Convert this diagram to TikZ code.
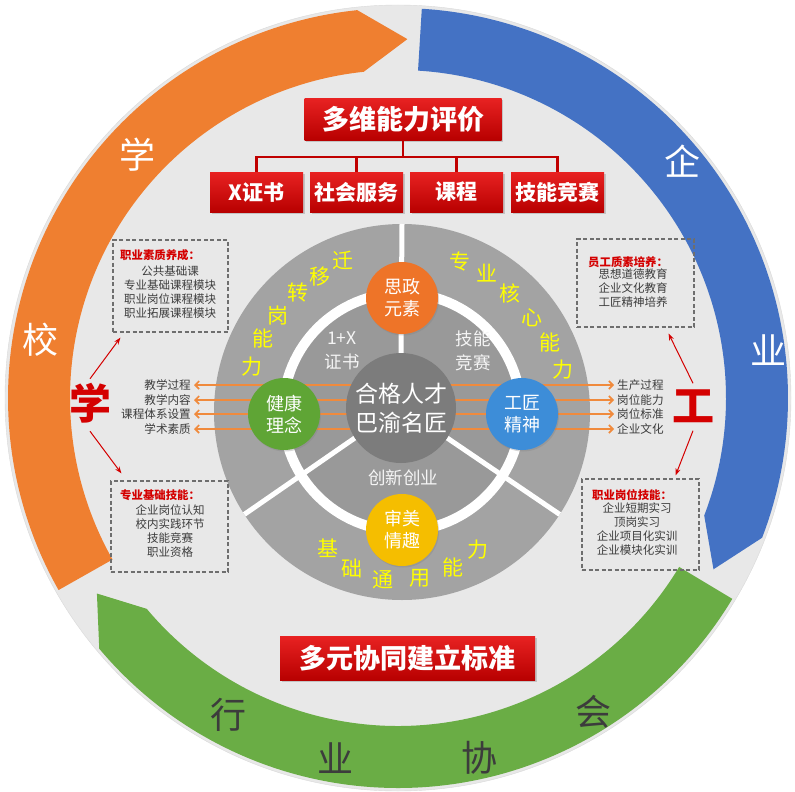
\documentclass[tikz,border=0pt]{standalone}
\usepackage{fontspec}
\setmainfont{Noto Sans CJK SC}
\usetikzlibrary{arrows.meta,shadows}

\newcommand{\fsz}[2]{\fontsize{#1pt}{#2pt}\selectfont}

\definecolor{bglight}{HTML}{E8E8E8}
\definecolor{ringorange}{HTML}{EF7F30}
\definecolor{ringblue}{HTML}{4472C4}
\definecolor{ringgreen}{HTML}{6AAD45}
\definecolor{boxtop}{HTML}{E82222}
\definecolor{boxbot}{HTML}{B80000}
\definecolor{treered}{HTML}{C00000}
\definecolor{titlered}{HTML}{D40000}
\definecolor{txtgray}{HTML}{3C3C3C}
\definecolor{dashgray}{HTML}{6E6E6E}
\definecolor{lineorange}{HTML}{F08A3C}
\definecolor{diskout}{HTML}{A3A3A3}
\definecolor{diskin}{HTML}{999999}
\definecolor{ccgray}{HTML}{7C7C7C}
\definecolor{ballorange}{HTML}{EE7428}
\definecolor{ballgreen}{HTML}{5FA535}
\definecolor{ballblue}{HTML}{3D8DD8}
\definecolor{ballyellow}{HTML}{F5BE00}
\definecolor{yeltext}{HTML}{FFFF00}

\begin{document}
\begin{tikzpicture}[x=1pt,y=-1pt]
    \tikzstyle{ringtext}=[text=white, font=\fsz{36}{36}, inner sep=0pt]
    \tikzstyle{redbox}=[rectangle, top color=boxtop, bottom color=boxbot, text=white, inner sep=0pt,
      drop shadow={opacity=0.35, shadow xshift=1.5pt, shadow yshift=-1.5pt}]
    \tikzstyle{tree}=[draw=treered, line width=2.2pt]
    \tikzstyle{dashbox}=[draw=dashgray, dashed, line width=1.1pt, dash pattern=on 4pt off 2.5pt, inner sep=0pt]
    \tikzstyle{boxtitle}=[text=titlered, font=\fsz{11.4}{13}\bfseries, anchor=west, inner sep=0pt]
    \tikzstyle{boxtext}=[text=txtgray, font=\fsz{11.5}{13.8}, align=center, inner sep=0pt]
    \tikzstyle{sidetext}=[text=txtgray, font=\fsz{11.6}{12}, inner sep=1pt]
    \tikzstyle{orline}=[draw=lineorange, line width=1.6pt, -{Straight Barb[length=4pt,width=8pt]}]
    \tikzstyle{redarr}=[draw=titlered, line width=1pt, -{Stealth[length=7pt,width=5pt]}]
    \tikzstyle{ball}=[circle, minimum size=72pt, inner sep=0pt, text=white, font=\fsz{18}{22}, align=center,
      drop shadow={opacity=0.3, shadow xshift=1pt, shadow yshift=-1.5pt}]
    \tikzstyle{yel}=[text=yeltext, font=\fsz{21}{21}, inner sep=0pt]
    \tikzstyle{graytext}=[text=white!92!gray, font=\fsz{17.5}{24}, align=center, inner sep=0pt]

    \useasboundingbox (0,0) rectangle (795,792);
    \fill[white] (0,0) rectangle (795,792);

    % background disc and the three ring arrows
    \filldraw[fill=bglight, draw=black!15] (398,398) circle[radius=393pt];
    \begin{scope}[shift={(398,398)}]
      \fill[ringorange] (209.5:390pt) arc[start angle=209.5, end angle=96, radius=390pt]
        -- (88.5:359pt) -- (96:328pt) arc[start angle=96, end angle=209.5, radius=328pt] -- cycle;
      \fill[ringblue] (86.5:390pt) arc[start angle=86.5, end angle=-21, radius=390pt]
        -- (-28.5:359pt) -- (-21:328pt) arc[start angle=-21, end angle=86.5, radius=328pt] -- cycle;
      \fill[ringgreen] (-31:390pt) arc[start angle=-31, end angle=-140, radius=390pt]
        -- (-147:359pt) -- (-140:328pt) arc[start angle=-140, end angle=-31, radius=328pt] -- cycle;
    \end{scope}
    \node[ringtext] (r1) at (137,155) {学};
    \node[ringtext] (r2) at (41,340) {校};
    \node[ringtext] (r3) at (682,161) {企};
    \node[ringtext] (r4) at (768,350) {业};
    \node[ringtext, text=txtgray] (r5) at (228,715) {行};
    \node[ringtext, text=txtgray] (r6) at (335,758) {业};
    \node[ringtext, text=txtgray] (r7) at (479,758) {协};
    \node[ringtext, text=txtgray] (r8) at (593,712) {会};

    % evaluation tree
    \node[redbox, minimum width=197pt, minimum height=42pt, font=\fsz{27}{27}\bfseries] (pj) at (403,119) {多维能力评价};
    \node[redbox, minimum width=93pt, minimum height=40pt, font=\fsz{21}{21}\bfseries] (b1) at (256.5,192) {X证书};
    \node[redbox, minimum width=93pt, minimum height=40pt, font=\fsz{21}{21}\bfseries] (b2) at (356.5,192) {社会服务};
    \node[redbox, minimum width=93pt, minimum height=40pt, font=\fsz{21}{21}\bfseries] (b3) at (456.5,192) {课程};
    \node[redbox, minimum width=93pt, minimum height=40pt, font=\fsz{21}{21}\bfseries] (b4) at (557.5,192) {技能竞赛};
    \foreach \b in {b1,b2,b3,b4}
      \draw[tree] (pj.south) -- ++(0,17) -| (\b.north);

    \node[redbox, minimum width=255pt, minimum height=44pt, font=\fsz{27}{27}\bfseries] (bz) at (407.5,658) {多元协同建立标准};

    % centre disc
    \node[circle, fill=diskout, minimum size=376pt, inner sep=0pt, outer sep=0pt] (gd) at (402,412) {};
    \fill[diskin] (402,412) circle[radius=116pt];
    \node[circle, minimum size=110pt, inner sep=0pt, outer sep=0pt] (cc) at (401,408) {};
    \draw[white, line width=5pt] (cc.90) -- (gd.90);
    \draw[white, line width=5pt] (cc.213) -- (gd.213);
    \draw[white, line width=5pt] (cc.-33) -- (gd.-33);
    \draw[white, line width=10pt] (402,412) circle[radius=119pt];

    % side labels and orange arrows
    \node[sidetext, anchor=east] (lt1) at (192,385) {教学过程};
    \node[sidetext, anchor=east] (lt2) at (192,400) {教学内容};
    \node[sidetext, anchor=east] (lt3) at (192,414) {课程体系设置};
    \node[sidetext, anchor=east] (lt4) at (192,429) {学术素质};
    \node[sidetext, anchor=west] (rt1) at (616,385) {生产过程};
    \node[sidetext, anchor=west] (rt2) at (616,400) {岗位能力};
    \node[sidetext, anchor=west] (rt3) at (616,414) {岗位标准};
    \node[sidetext, anchor=west] (rt4) at (616,429) {企业文化};
    \foreach \i in {1,...,4} {
      \draw[orline] (cc.center |- lt\i.east) -- ([xshift=2pt]lt\i.east);
      \draw[orline] (cc.center |- rt\i.west) -- ([xshift=-2pt]rt\i.west);
    }

    \fill[ccgray] (cc.center) circle[radius=55pt];
    \node[text=white, font=\fsz{23}{29}, align=center] (ct) at (cc.center) {合格人才\\巴渝名匠};

    \node[ball, fill=ballorange] (sz) at (402,298) {思政\\元素};
    \node[ball, fill=ballgreen] (jk) at (284,414) {健康\\理念};
    \node[ball, fill=ballblue] (gj) at (522,414) {工匠\\精神};
    \node[ball, fill=ballyellow] (sm) at (402,530) {审美\\情趣};

    \node[graytext] (g1) at (342,351) {1+X\\证书};
    \node[graytext] (g2) at (473,351) {技能\\竞赛};
    \node[graytext] (g3) at (403,478) {创新创业};

    % yellow arc words
    \foreach \ch/\px/\py [count=\i] in {迁/343/260, 移/320/277, 转/298/293, 岗/278/315, 能/263/338, 力/252/367,
        专/460/262, 业/487/273, 核/510/293, 心/532/318, 能/550/342, 力/563/370,
        基/328/548, 础/352/568, 通/383/580, 用/420/578, 能/453/567, 力/478/550}
      \node[yel] (y\i) at (\px,\py) {\ch};

    % dashed boxes
    \node[dashbox, minimum width=115pt, minimum height=92pt] (q1) at (170.5,286) {};
    \node[boxtitle] (t1) at (120,255) {职业素质养成：};
    \node[boxtext] (k1) at (170,292) {公共基础课\\专业基础课程模块\\职业岗位课程模块\\职业拓展课程模块};

    \node[dashbox, minimum width=117pt, minimum height=91pt] (q2) at (169.5,526.5) {};
    \node[boxtitle] (t2) at (120,495) {专业基础技能：};
    \node[boxtext] (k2) at (170,531) {企业岗位认知\\校内实践环节\\技能竞赛\\职业资格};

    \node[dashbox, minimum width=117pt, minimum height=88pt] (q3) at (635.5,283) {};
    \node[boxtitle] (t3) at (588,262) {员工质素培养：};
    \node[boxtext] (k3) at (633,288) {思想道德教育\\企业文化教育\\工匠精神培养};

    \node[dashbox, minimum width=117pt, minimum height=91pt] (q4) at (640.5,524.5) {};
    \node[boxtitle] (t4) at (592,495) {职业岗位技能：};
    \node[boxtext] (k4) at (637,529) {企业短期实习\\顶岗实习\\企业项目化实训\\企业模块化实训};

    % big red characters
    \node[text=titlered, font=\fsz{42}{42}\bfseries, inner sep=0pt] (xue) at (90,403) {学};
    \node[text=titlered, font=\fsz{42}{42}\bfseries, inner sep=0pt] (gong) at (693,406) {工};
    \draw[redarr] ([yshift=4pt]xue.north) -- ([xshift=8pt,yshift=-5pt]q1.south west);
    \draw[redarr] ([yshift=-8pt]xue.south) -- ([xshift=11pt,yshift=7pt]q2.north west);
    \draw[redarr] ([yshift=6pt]gong.north) -- ([xshift=-26pt,yshift=-6pt]q3.south east);
    \draw[redarr] ([yshift=-8pt]gong.south) -- ([xshift=-24pt,yshift=3pt]q4.north east);
\end{tikzpicture}
\end{document}
